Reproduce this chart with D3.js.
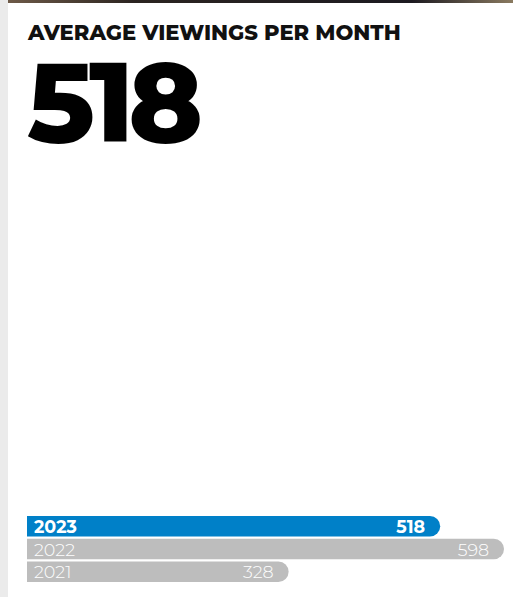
<!DOCTYPE html>
<html>
<head>
<meta charset="utf-8">
<script src="https://cdn.jsdelivr.net/npm/d3@7"></script>
<style>
  html, body { margin: 0; padding: 0; background: #fff; }
  svg { display: block; }
</style>
</head>
<body>
<svg id="chart" width="517" height="597"></svg>
<script>
const title = 'AVERAGE VIEWINGS PER MONTH';
const headline = '518';
const years = ['2023', '2022', '2021'];
const viewings = [518, 598, 328];
const colors = ['#0080c8', '#bdbdbd', '#bdbdbd'];

const svg = d3.select('#chart');
const W = 517, H = 597;

// page chrome: grey strip on the left, dark photo edge on top
svg.append('rect').attr('x', 0).attr('y', 0).attr('width', 8).attr('height', H).attr('fill', '#ebebeb');
const grad = svg.append('defs').append('linearGradient').attr('id', 'topband');
grad.append('stop').attr('offset', '0%').attr('stop-color', '#6e5a48');
grad.append('stop').attr('offset', '25%').attr('stop-color', '#2b2420');
grad.append('stop').attr('offset', '80%').attr('stop-color', '#1c1a20');
grad.append('stop').attr('offset', '100%').attr('stop-color', '#8a7a60');
svg.append('rect').attr('x', 8).attr('y', 0).attr('width', 505).attr('height', 3).attr('fill', 'url(#topband)');

// fit a text to a target width by tweaking font size
function fit(sel, target) {
  const w = sel.node().getComputedTextLength();
  const fs = parseFloat(sel.attr('font-size'));
  sel.attr('font-size', fs * target / w);
}

const t = svg.append('text')
  .attr('x', 28).attr('y', 40)
  .attr('font-family', 'Montserrat, Lato, sans-serif')
  .attr('font-weight', 800)
  .attr('font-size', 19)
  .attr('fill', '#111')
  .text(title);
fit(t, 373);

// big number, drawn at a smaller size and scaled so its box sits below the title
svg.append('text')
  .attr('transform', 'translate(27,142) scale(1.4)')
  .attr('font-family', 'Montserrat, Lato, sans-serif')
  .attr('font-weight', 800)
  .attr('font-size', 80)
  .attr('fill', '#000')
  .attr('letter-spacing', -4.3)
  .text(headline);

// bars
const x = d3.scaleLinear().domain([0, d3.max(viewings)]).range([27, 504]);
const y = d3.scaleBand().domain(years).range([516, 582]).paddingInner(0.1);
const h = y.bandwidth();
const r = h / 2;

function barPath(x0, x1, y0, hh) {
  const p = d3.path();
  p.moveTo(x0, y0);
  p.lineTo(x1 - r, y0);
  p.arc(x1 - r, y0 + r, r, -Math.PI / 2, Math.PI / 2);
  p.lineTo(x0, y0 + hh);
  p.closePath();
  return p.toString();
}

const rows = svg.append('g').selectAll('g')
  .data(years.map((yr, i) => ({ year: yr, value: viewings[i], color: colors[i], bold: i === 0 })))
  .enter().append('g');

rows.append('path')
  .attr('d', d => barPath(x(0), x(d.value), y(d.year), h))
  .attr('fill', d => d.color);

rows.append('text')
  .attr('x', x(0) + 7)
  .attr('y', d => y(d.year) + h / 2 + 6.5)
  .attr('font-family', 'Montserrat, Lato, sans-serif')
  .attr('font-weight', d => d.bold ? 700 : 300)
  .attr('font-size', 17.5)
  .attr('fill', '#fff')
  .text(d => d.year);

rows.append('text')
  .attr('x', d => x(d.value) - 15)
  .attr('y', d => y(d.year) + h / 2 + 6.5)
  .attr('text-anchor', 'end')
  .attr('font-family', 'Montserrat, Lato, sans-serif')
  .attr('font-weight', d => d.bold ? 700 : 300)
  .attr('font-size', 17.5)
  .attr('fill', '#fff')
  .text(d => d.value);
</script>
</body>
</html>
